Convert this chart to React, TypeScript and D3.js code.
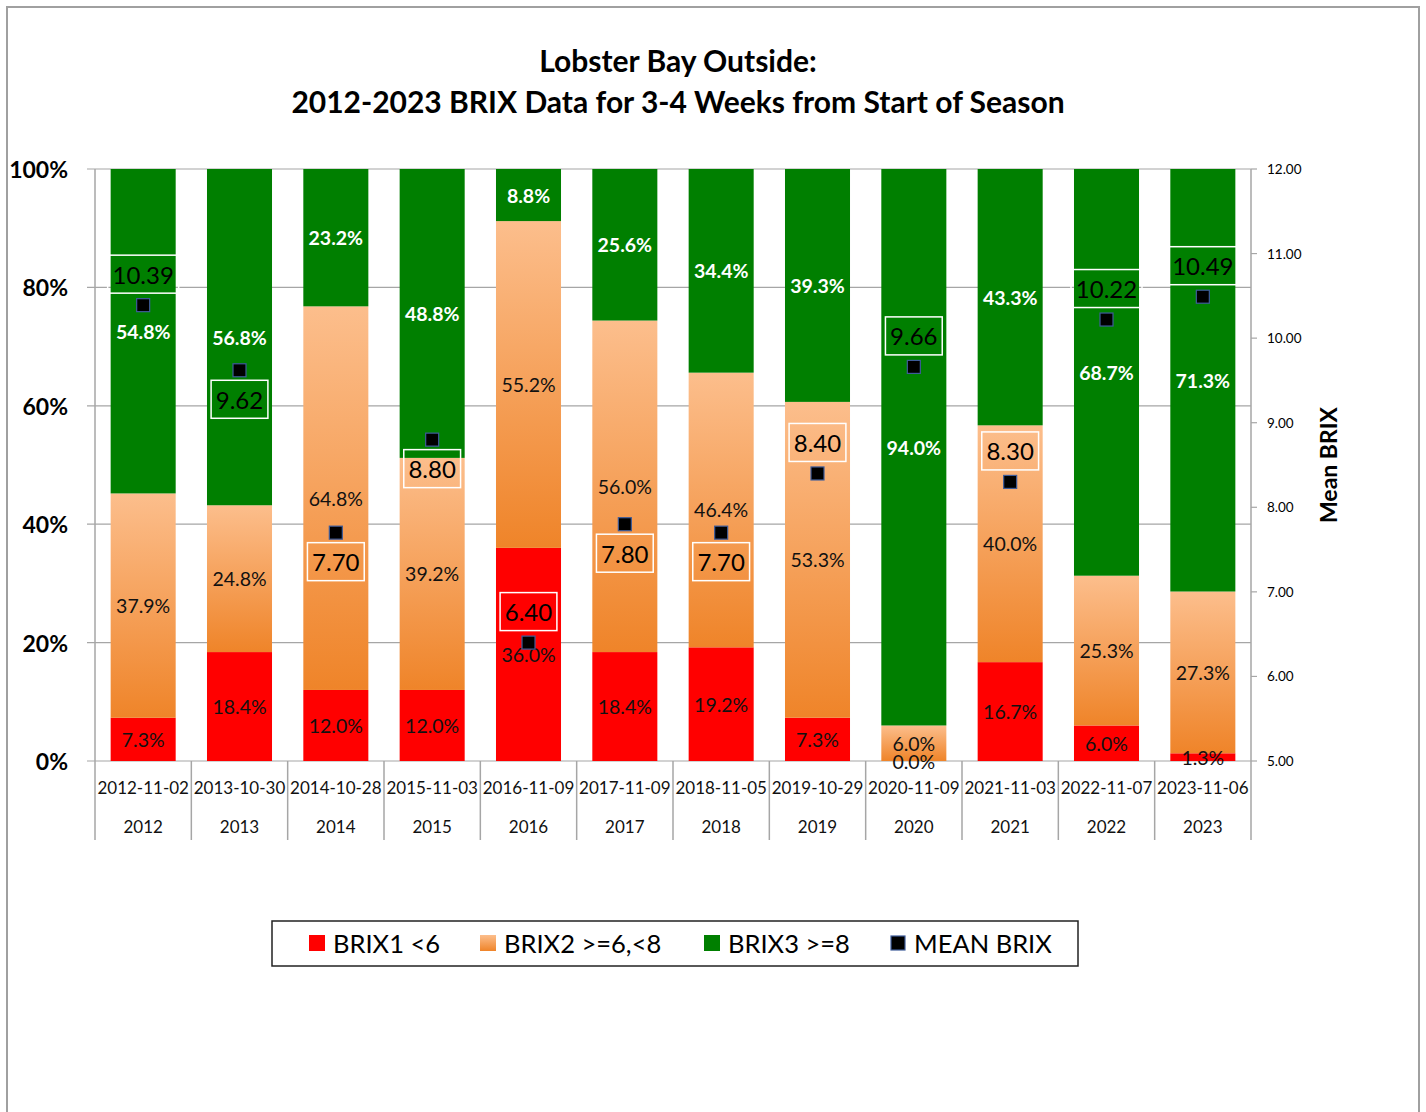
import React from 'react';
import * as d3 from 'd3';

const years = ['2012', '2013', '2014', '2015', '2016', '2017', '2018', '2019', '2020', '2021', '2022', '2023'];
const dates = ['2012-11-02', '2013-10-30', '2014-10-28', '2015-11-03', '2016-11-09', '2017-11-09', '2018-11-05', '2019-10-29', '2020-11-09', '2021-11-03', '2022-11-07', '2023-11-06'];
const brix1 = [7.3, 18.4, 12.0, 12.0, 36.0, 18.4, 19.2, 7.3, 0.0, 16.7, 6.0, 1.3];
const brix2 = [37.9, 24.8, 64.8, 39.2, 55.2, 56.0, 46.4, 53.3, 6.0, 40.0, 25.3, 27.3];
const brix3 = [54.8, 56.8, 23.2, 48.8, 8.8, 25.6, 34.4, 39.3, 94.0, 43.3, 68.7, 71.3];
const meanBrix = [10.39, 9.62, 7.70, 8.80, 6.40, 7.80, 7.70, 8.40, 9.66, 8.30, 10.22, 10.49];
const meanLabelSide = ['above', 'below', 'below', 'below', 'above', 'below', 'below', 'above', 'above', 'above', 'above', 'above'];
const pctTicks = [0, 0.2, 0.4, 0.6, 0.8, 1.0];
const brixTicks = [5, 6, 7, 8, 9, 10, 11, 12];
const seriesKeys = ['b1', 'b2', 'b3'];
const seriesNames = ['BRIX1 <6', 'BRIX2 >=6,<8', 'BRIX3 >=8'];
const meanName = 'MEAN BRIX';
const titleLines = ['Lobster Bay Outside:', '2012-2023 BRIX Data for 3-4 Weeks from Start of Season'];
const rightAxisTitle = 'Mean BRIX';

const FONT = 'Lato, "Open Sans", sans-serif';
const RED = '#FF0000';
const GREEN = '#007F00';
const GRID = '#A6A6A6';

export default function App() {
  const W = 1426, H = 1112;
  const left = 95, right = 1251, top = 169, bottom = 761;

  const rows = years.map((y, i) => ({ year: y, b1: brix1[i], b2: brix2[i], b3: brix3[i] }));
  const stack = d3.stack<any>().keys(seriesKeys).offset(d3.stackOffsetExpand);
  const stacked = stack(rows);

  const x = d3.scaleBand<string>().domain(years).range([left, right]).paddingInner(0.325).paddingOuter(0.1625);
  const step = x.step();
  const y = d3.scaleLinear().domain([0, 1]).range([bottom, top]);
  const y2 = d3.scaleLinear().domain([5, 12]).range([bottom, top]);
  const fmtPct = d3.format('.0%');
  const fmt1 = d3.format('.1f');
  const fmt2 = d3.format('.2f');

  const values = [brix1, brix2, brix3];
  const fills = [RED, 'url(#orangeGrad)', GREEN];
  const catBounds = d3.range(years.length + 1).map(i => left + i * step);

  const legendX = [309, 480, 704, 890];
  const legendFills = [RED, 'url(#orangeGradL)', GREEN];

  return (
    <svg width={W} height={H} style={{ position: 'absolute', left: 0, top: 0, display: 'block' }} fontFamily={FONT}>
      <defs>
        <linearGradient id="orangeGrad" x1="0" y1="0" x2="0" y2="1">
          <stop offset="0" stopColor="#FCBE8C" />
          <stop offset="1" stopColor="#EF8429" />
        </linearGradient>
        <linearGradient id="orangeGradL" x1="0" y1="0" x2="0" y2="1">
          <stop offset="0" stopColor="#FCBE8C" />
          <stop offset="1" stopColor="#EF8429" />
        </linearGradient>
      </defs>
      <rect x={0} y={0} width={W} height={H} fill="#fff" />
      {/* frame */}
      <path d={`M7,${H} V7 H1419 V${H}`} fill="none" stroke="#A0A0A0" strokeWidth={2} />

      {/* title */}
      {titleLines.map((t, i) => (
        <text key={i} x={678} y={60 + i * 41} textAnchor="middle" dominantBaseline="central" fontSize={30} fontWeight="bold" fill="#000">{t}</text>
      ))}

      {/* gridlines */}
      {pctTicks.map(t => (
        <line key={t} x1={left - 8} x2={right} y1={y(t)} y2={y(t)} stroke={GRID} strokeWidth={1.2} />
      ))}
      <line x1={left} x2={left} y1={top} y2={840} stroke={GRID} strokeWidth={1.5} />
      <line x1={right} x2={right} y1={top} y2={840} stroke={GRID} strokeWidth={1.5} />
      {catBounds.slice(1, -1).map((b, i) => (
        <line key={i} x1={b} x2={b} y1={bottom} y2={840} stroke={GRID} strokeWidth={1.5} />
      ))}

      {/* left axis labels */}
      {pctTicks.map(t => (
        <text key={t} x={68} y={y(t)} textAnchor="end" dominantBaseline="central" fontSize={23} fontWeight="bold" fill="#000">{fmtPct(t)}</text>
      ))}

      {/* right axis */}
      {brixTicks.map(t => (
        <g key={t}>
          <line x1={right} x2={right + 6} y1={y2(t)} y2={y2(t)} stroke={GRID} strokeWidth={1.2} />
          <text x={1267} y={y2(t)} dominantBaseline="central" fontSize={13.5} fill="#000">{fmt2(t)}</text>
        </g>
      ))}
      <text transform={`translate(1328,465) rotate(-90)`} textAnchor="middle" dominantBaseline="central" fontSize={23} fontWeight="bold" fill="#000">{rightAxisTitle}</text>

      {/* bars */}
      {stacked.map((s, si) => (
        <g key={s.key}>
          {s.map((d, i) => (
            <rect key={i} x={x(years[i])} width={x.bandwidth()} y={y(d[1])} height={Math.max(0, y(d[0]) - y(d[1]))} fill={fills[si]} />
          ))}
        </g>
      ))}

      {/* segment labels */}
      {stacked.map((s, si) => (
        <g key={s.key}>
          {s.map((d, i) => (
            <text key={i} x={x(years[i])! + x.bandwidth() / 2} y={(y(d[0]) + y(d[1])) / 2} textAnchor="middle" dominantBaseline="central"
              fontSize={19.5} fontWeight={si === 2 ? 'bold' : 'normal'} fill={si === 2 ? '#fff' : '#111'}>
              {fmt1(values[si][i]) + '%'}
            </text>
          ))}
        </g>
      ))}

      {/* mean labels */}
      {meanBrix.map((m, i) => {
        const cx = x(years[i])! + x.bandwidth() / 2;
        const cy = y2(m) + (meanLabelSide[i] === 'above' ? -31 : 29);
        const label = fmt2(m);
        const w = label.length * 14.2;
        return (
          <g key={i}>
            <rect x={cx - w / 2} y={cy - 19} width={w} height={38} fill="none" stroke="#fff" strokeWidth={1.5} />
            <text x={cx} y={cy} textAnchor="middle" dominantBaseline="central" fontSize={24} fill="#000">{label}</text>
          </g>
        );
      })}

      {/* mean markers */}
      {meanBrix.map((m, i) => {
        const cx = x(years[i])! + x.bandwidth() / 2;
        return <rect key={i} x={cx - 6.5} y={y2(m) - 6.5} width={13} height={13} fill="#000" stroke="#3E5C9A" strokeWidth={1.2} />;
      })}

      {/* x axis labels */}
      {years.map((yr, i) => {
        const cx = x(yr)! + x.bandwidth() / 2;
        return (
          <g key={yr}>
            <text x={cx} y={787} textAnchor="middle" dominantBaseline="central" fontSize={17} fill="#111">{dates[i]}</text>
            <text x={cx} y={826} textAnchor="middle" dominantBaseline="central" fontSize={17} fill="#111">{yr}</text>
          </g>
        );
      })}

      {/* legend */}
      <rect x={272} y={921} width={806} height={45} fill="#fff" stroke="#222" strokeWidth={1.5} />
      {seriesNames.map((n, i) => (
        <g key={n}>
          <rect x={legendX[i]} y={935} width={16} height={16} fill={legendFills[i]} />
          <text x={legendX[i] + 24} y={943} dominantBaseline="central" fontSize={25.5} fill="#000">{n}</text>
        </g>
      ))}
      <rect x={legendX[3] + 1} y={936} width={14} height={14} fill="#000" stroke="#3E5C9A" strokeWidth={1.2} />
      <text x={legendX[3] + 24} y={943} dominantBaseline="central" fontSize={25.5} fill="#000">{meanName}</text>
    </svg>
  );
}
